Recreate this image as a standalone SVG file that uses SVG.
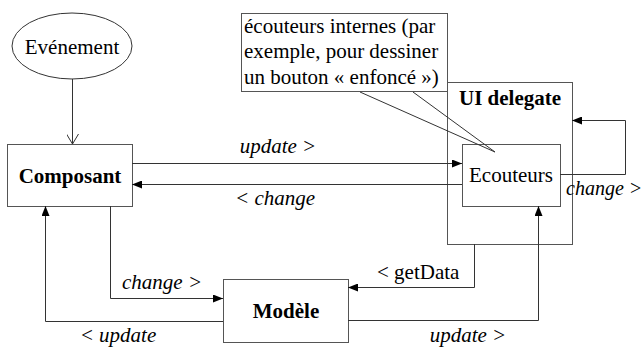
<svg xmlns="http://www.w3.org/2000/svg" width="643" height="347" viewBox="0 0 643 347">
<defs>
<marker id="ah" viewBox="0 0 10 8" refX="10" refY="4" markerWidth="10" markerHeight="8" markerUnits="userSpaceOnUse" orient="auto">
<path d="M0,0 L10,4 L0,8 Z" fill="#000"/>
</marker>
<marker id="oa" viewBox="0 0 10 12" refX="10" refY="6" markerWidth="10" markerHeight="12" markerUnits="userSpaceOnUse" orient="auto">
<path d="M0,0 L10,6 L0,12" fill="none" stroke="#333" stroke-width="1"/>
</marker>
</defs>
<g id="uidelegate">
<rect x="447.5" y="82.5" width="125" height="162" fill="#fff" stroke="#555"/>
<text x="510" y="105" font-family="Liberation Serif, serif" font-size="21" font-weight="bold" text-anchor="middle">UI delegate</text>
</g>
<g id="callout">
<rect x="241.5" y="13.5" width="206" height="78" fill="#fff" stroke="#555"/>
<text x="244" y="33" font-family="Liberation Serif, serif" font-size="21">écouteurs internes (par</text>
<text x="244" y="58" font-family="Liberation Serif, serif" font-size="21">exemple, pour dessiner</text>
<text x="244" y="84" font-family="Liberation Serif, serif" font-size="21">un bouton « enfoncé »)</text>
</g>
<g id="evenement">
<ellipse cx="72" cy="46" rx="60" ry="33" fill="#fff" stroke="#333"/>
<text x="72" y="54" font-family="Liberation Serif, serif" font-size="21" text-anchor="middle">Evénement</text>
</g>
<g id="composant">
<rect x="7.5" y="144.5" width="125" height="62" fill="#fff" stroke="#555"/>
<text x="70" y="183" font-family="Liberation Serif, serif" font-size="21" font-weight="bold" text-anchor="middle">Composant</text>
</g>
<g id="ecouteurs">
<rect x="462.5" y="144.5" width="98" height="62" fill="#fff" stroke="#555"/>
<text x="511" y="182" font-family="Liberation Serif, serif" font-size="21" text-anchor="middle">Ecouteurs</text>
</g>
<g id="modele">
<rect x="223.5" y="279.5" width="125" height="63" fill="#fff" stroke="#555"/>
<text x="286" y="318" font-family="Liberation Serif, serif" font-size="21" font-weight="bold" text-anchor="middle">Modèle</text>
</g>
<g id="connectors" fill="none" stroke="#333" stroke-width="1">
<path d="M360,92 L495,152 M413,92 L495,152"/>
<path d="M72.5,79 L72.5,144" marker-end="url(#oa)"/>
<path d="M132,163.5 L462,163.5" marker-end="url(#ah)"/>
<path d="M462,184.5 L132,184.5" marker-end="url(#ah)"/>
<path d="M560,174.5 L625.5,174.5 L625.5,120.5 L572,120.5" marker-end="url(#ah)"/>
<path d="M110.5,206 L110.5,298.5 L223,298.5" marker-end="url(#ah)"/>
<path d="M223,321.5 L45.5,321.5 L45.5,206" marker-end="url(#ah)"/>
<path d="M348,320.5 L538.5,320.5 L538.5,206" marker-end="url(#ah)"/>
<path d="M474.5,244 L474.5,287.5 L348,287.5" marker-end="url(#ah)"/>
</g>
<g id="labels" fill="#000">
<text x="278" y="153" font-family="Liberation Serif, serif" font-size="21" font-style="italic" text-anchor="middle">update &gt;</text>
<text x="275" y="205" font-family="Liberation Serif, serif" font-size="21" font-style="italic" text-anchor="middle">&lt; change</text>
<text x="566" y="195" font-family="Liberation Serif, serif" font-size="20" font-style="italic">change &gt;</text>
<text x="122" y="289" font-family="Liberation Serif, serif" font-size="21" font-style="italic">change &gt;</text>
<text x="118" y="342" font-family="Liberation Serif, serif" font-size="21" font-style="italic" text-anchor="middle">&lt; update</text>
<text x="468" y="342" font-family="Liberation Serif, serif" font-size="21" font-style="italic" text-anchor="middle">update &gt;</text>
<text x="377" y="279" font-family="Liberation Serif, serif" font-size="21">&lt; getData</text>
</g>
</svg>
